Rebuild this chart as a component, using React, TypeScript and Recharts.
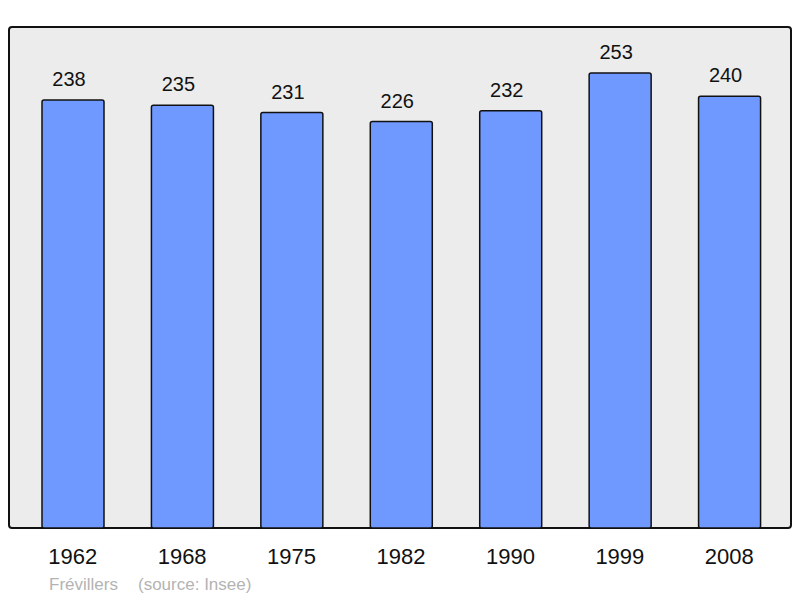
import { Bar, BarChart, LabelList, XAxis, YAxis } from "recharts";

// 人口推移（Frévillers）
const YEARS = ["1962", "1968", "1975", "1982", "1990", "1999", "2008"];
const POPULATION = [238, 235, 231, 226, 232, 253, 240];

const FONT = "'Liberation Sans', Arial, sans-serif";
const BAR_FILL = "#7099ff";
const PLOT_BG = "#ececec";

const data = YEARS.map((year, i) => ({ year, pop: POPULATION[i] }));

function ValueLabel(props: any) {
  const { x, y, width, value } = props;
  return (
    <text x={Number(x) + Number(width) / 2 - 4} y={Number(y) - 14} textAnchor="middle" fontSize={20} fill="#111" fontFamily={FONT}>
      {value}
    </text>
  );
}

export default function App() {
  return (
    <div style={{ position: "absolute", left: 0, top: 0, width: 800, height: 598, background: "#fff", fontFamily: FONT }}>
      {/* 枠付きの灰色背景 */}
      <div
        style={{
          position: "absolute",
          left: 8,
          top: 26,
          width: 784,
          height: 503,
          boxSizing: "border-box",
          border: "2px solid #111",
          borderRadius: 4,
          background: PLOT_BG,
        }}
      />
      <div style={{ position: "absolute", left: 0, top: 0 }}>
        <BarChart width={800} height={598} data={data} margin={{ top: 28, right: 9, left: 9, bottom: 0 }}>
          <XAxis
            dataKey="year"
            height={70}
            axisLine={false}
            tickLine={false}
            tickMargin={14}
            padding={{ left: 9, right: 7 }}
            tick={{ fontSize: 22, fill: "#111", fontFamily: FONT }}
            interval={0}
          />
          <YAxis hide domain={[0, 278]} />
          <Bar dataKey="pop" fill={BAR_FILL} stroke="#111" strokeWidth={1.5} radius={2} barSize={62} isAnimationActive={false}>
            <LabelList dataKey="pop" content={ValueLabel} />
          </Bar>
        </BarChart>
      </div>
      <div style={{ position: "absolute", left: 49, top: 575, fontSize: 17, color: "#b3b3b3", whiteSpace: "pre" }}>
        Frévillers
      </div>
      <div style={{ position: "absolute", left: 138, top: 575, fontSize: 17, color: "#b3b3b3", whiteSpace: "pre" }}>
        (source: Insee)
      </div>
    </div>
  );
}
